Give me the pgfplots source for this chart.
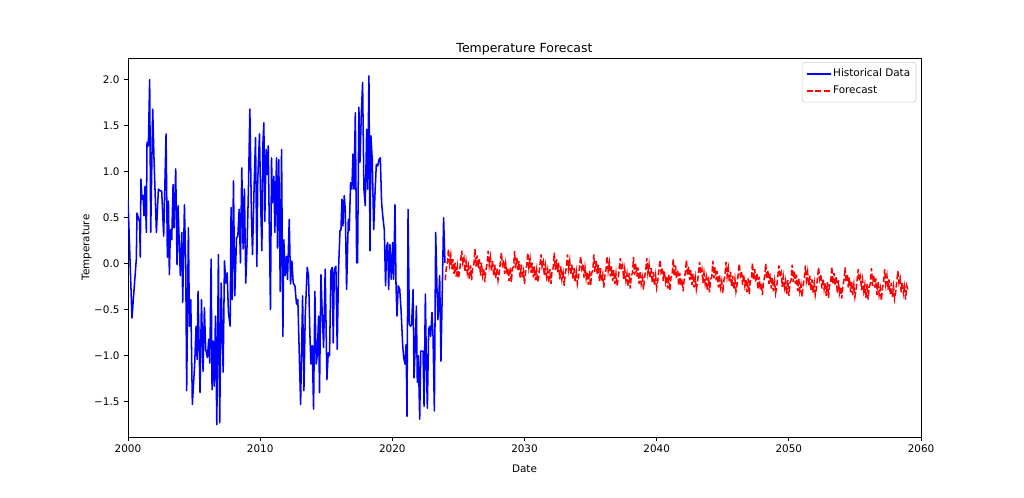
\documentclass[border=0pt]{standalone}
\usepackage{pgfplots}
\pgfplotsset{compat=1.18}
\usepackage{fontspec}
\setmainfont{DejaVu Sans}
\definecolor{mblue}{RGB}{0,0,255}
\definecolor{mred}{RGB}{255,0,0}
\begin{document}
\begin{tikzpicture}
\begin{axis}[
  scale only axis,
  width=571pt, height=273pt,
  xmin=2000, xmax=2060,
  ymin=-1.885, ymax=2.235,
  xtick={2000,2010,2020,2030,2040,2050,2060},
  xticklabels={2000,2010,2020,2030,2040,2050,2060},
  ytick={-1.5,-1,-0.5,0,0.5,1,1.5,2},
  yticklabels={−1.5,−1.0,−0.5,0.0,0.5,1.0,1.5,2.0},
  tick align=outside,
  tick pos=left,
  major tick length=2.6pt,
  every tick/.style={black, line width=0.6pt},
  axis line style={line width=0.6pt},
  ticklabel style={font=\fontsize{7.5}{9}\selectfont},
  xticklabel style={yshift=1pt},
  xlabel={Date}, ylabel={Temperature},
  label style={font=\fontsize{7.5}{9}\selectfont},
  xlabel style={yshift=-2.3pt},
  ylabel style={yshift=-5pt},
  title={Temperature Forecast},
  title style={font=\fontsize{9}{11}\selectfont, inner sep=0pt, yshift=-4.2pt},
  legend cell align=left,
  legend style={font=\fontsize{7.5}{9}\selectfont, draw=black!20, rounded corners=2pt, inner xsep=3pt, inner ysep=3.5pt, row sep=2.6pt, at={(0.994,0.989)}, anchor=north east, nodes={inner sep=1.2pt}},
  legend image code/.code={\draw[#1, line width=1.1pt] (0pt,0pt) -- (17pt,0pt);},
]
\addplot[mblue, line width=1.1pt, line join=round] coordinates {
(2000.00,0.70)(2000.30,-0.59)(2000.63,0.05)(2000.68,0.55)(2000.88,0.45)(2000.93,0.07)(2000.98,0.92)(2001.06,0.70)(2001.14,0.74)(2001.21,0.52)(2001.29,0.84)(2001.39,0.34)(2001.44,1.32)(2001.54,1.28)(2001.64,2.00)(2001.72,0.34)(2001.87,1.68)(2001.97,1.13)(2002.15,0.34)(2002.30,0.81)(2002.45,0.79)(2002.55,0.79)(2002.70,0.30)(2002.88,1.41)(2002.98,0.07)
(2003.06,0.68)(2003.13,-0.12)(2003.21,0.37)(2003.31,0.26)(2003.41,0.86)(2003.48,0.39)(2003.61,1.03)(2003.71,-0.01)(2003.79,0.63)(2003.89,0.16)(2003.96,-0.13)(2004.07,0.34)(2004.14,-0.42)(2004.27,0.64)(2004.37,-0.03)(2004.44,-1.38)(2004.57,0.39)(2004.65,-0.68)(2004.75,-0.39)(2004.87,-1.53)
(2005.05,-1.08)(2005.15,-0.68)(2005.23,-1.04)(2005.30,-0.30)(2005.45,-1.40)(2005.56,-0.39)(2005.68,-1.17)(2005.78,-0.48)(2005.88,-0.93)(2006.01,-1.02)(2006.11,-0.82)(2006.19,-1.08)(2006.29,0.05)(2006.36,-1.37)(2006.44,-0.84)(2006.52,-1.33)(2006.62,-0.57)(2006.72,-1.75)(2006.84,0.10)(2006.94,-1.73)
(2007.05,-0.21)(2007.20,-1.18)(2007.30,0.03)(2007.40,-0.21)(2007.50,-0.10)(2007.60,-0.53)(2007.73,-0.68)(2007.80,0.61)(2007.88,-0.39)(2007.98,0.90)(2008.08,-0.35)(2008.21,0.28)(2008.31,0.30)(2008.41,0.59)(2008.51,0.01)(2008.61,1.04)(2008.71,0.16)(2008.81,0.81)(2008.91,-0.21)
(2009.02,0.25)(2009.12,0.86)(2009.22,1.68)(2009.34,0.52)(2009.42,0.10)(2009.55,0.88)(2009.65,1.37)(2009.75,-0.03)(2009.82,0.92)(2009.95,1.41)(2010.05,0.59)(2010.13,0.14)(2010.20,1.28)(2010.28,1.53)(2010.35,0.46)(2010.45,1.24)(2010.53,0.97)(2010.61,1.28)(2010.68,0.52)(2010.78,-0.50)(2010.86,1.15)(2010.93,0.66)
(2011.04,0.95)(2011.11,0.34)(2011.24,1.15)(2011.31,0.17)(2011.41,1.13)(2011.52,-0.30)(2011.62,1.24)(2011.72,-0.79)(2011.79,0.26)(2011.89,-0.13)(2011.99,0.08)(2012.07,-0.17)(2012.20,0.48)(2012.30,-0.22)(2012.40,0.03)(2012.50,-0.21)(2012.63,-0.24)(2012.75,-0.44)(2012.85,-0.39)
(2013.06,-1.53)(2013.21,-0.35)(2013.31,-1.38)(2013.41,-0.57)(2013.56,-0.04)(2013.66,-0.13)(2013.76,-0.75)(2013.84,-1.09)(2013.94,-0.89)(2014.04,-1.58)(2014.14,-0.30)(2014.24,-1.09)(2014.32,-1.00)(2014.42,-0.57)(2014.49,-1.40)(2014.60,-0.12)(2014.70,-0.57)(2014.80,-0.91)(2014.92,-0.06)
(2015.05,-1.26)(2015.15,-0.97)(2015.25,-1.00)(2015.35,-0.08)(2015.45,-0.04)(2015.53,-0.86)(2015.61,-0.06)(2015.73,-0.03)(2015.83,-0.93)(2015.93,-0.06)(2016.04,0.36)(2016.11,0.36)(2016.19,0.70)(2016.26,0.41)(2016.36,0.74)(2016.44,0.59)(2016.54,-0.28)(2016.67,0.48)(2016.74,0.36)(2016.84,0.88)(2016.94,0.81)
(2017.02,1.19)(2017.10,0.81)(2017.20,1.64)(2017.30,0.01)(2017.37,0.01)(2017.47,1.70)(2017.55,1.10)(2017.65,1.61)(2017.75,1.97)(2017.85,0.81)(2017.95,0.63)(2018.06,1.46)(2018.13,0.81)(2018.23,2.04)(2018.31,0.14)(2018.38,1.39)(2018.48,1.13)(2018.59,0.37)(2018.69,0.77)(2018.79,1.08)(2018.89,1.06)(2018.99,1.13)
(2019.09,1.15)(2019.19,0.66)(2019.29,0.50)(2019.39,0.37)(2019.49,-0.24)(2019.57,0.19)(2019.65,0.23)(2019.72,-0.28)(2019.82,0.21)(2019.92,-0.17)(2020.03,0.23)(2020.10,-0.17)(2020.20,0.64)(2020.28,-0.24)(2020.35,-0.57)(2020.45,-0.24)(2020.56,-0.28)(2020.66,-0.50)(2020.78,-0.88)(2020.86,-1.02)(2020.96,-1.09)
(2021.04,-0.88)(2021.11,-1.66)(2021.19,0.59)(2021.29,-0.66)(2021.39,-0.68)(2021.46,-0.66)(2021.57,-0.28)(2021.64,-1.24)(2021.72,-0.95)(2021.82,-0.46)(2021.89,-1.29)(2021.97,-1.00)(2022.07,-1.69)(2022.15,-0.95)(2022.22,-0.95)(2022.32,-0.95)(2022.40,-1.55)(2022.50,-0.33)(2022.58,-1.13)(2022.65,-1.57)(2022.75,-0.71)(2022.83,-0.68)(2022.90,-0.79)
(2023.00,-0.53)(2023.08,-0.79)(2023.18,-1.60)(2023.28,0.34)(2023.38,-0.28)(2023.45,-0.61)(2023.58,-0.13)(2023.68,-1.06)(2023.78,-0.28)(2023.88,0.50)(2023.98,0.01)
};
\addlegendentry{Historical Data}
\addplot[mred, line width=1.1pt, dash pattern=on 4.2pt off 1.8pt] coordinates {
(2024.00,-0.18)(2024.08,-0.05)(2024.17,0.02)(2024.25,0.16)(2024.33,0.00)(2024.42,0.09)(2024.50,-0.06)(2024.58,0.05)(2024.67,-0.11)(2024.75,0.01)(2024.83,-0.14)(2024.92,-0.03)
(2025.00,-0.16)(2025.08,-0.09)(2025.17,0.03)(2025.25,0.14)(2025.33,0.01)(2025.42,0.06)(2025.50,-0.09)(2025.58,0.02)(2025.67,-0.10)(2025.75,-0.03)(2025.83,-0.17)(2025.92,-0.02)
(2026.00,-0.18)(2026.08,-0.04)(2026.17,-0.01)(2026.25,0.16)(2026.33,-0.03)(2026.42,0.09)(2026.50,-0.05)(2026.58,0.05)(2026.67,-0.13)(2026.75,0.01)(2026.83,-0.13)(2026.92,-0.06)
(2027.00,-0.20)(2027.08,-0.07)(2027.17,0.00)(2027.25,0.14)(2027.33,-0.02)(2027.42,0.07)(2027.50,-0.08)(2027.58,0.03)(2027.67,-0.13)(2027.75,-0.01)(2027.83,-0.16)(2027.92,-0.05)
(2028.00,-0.18)(2028.08,-0.11)(2028.17,0.01)(2028.25,0.12)(2028.33,-0.01)(2028.42,0.04)(2028.50,-0.11)(2028.58,0.00)(2028.67,-0.12)(2028.75,-0.05)(2028.83,-0.19)(2028.92,-0.04)
(2029.00,-0.20)(2029.08,-0.06)(2029.17,-0.03)(2029.25,0.14)(2029.33,-0.05)(2029.42,0.07)(2029.50,-0.07)(2029.58,0.03)(2029.67,-0.15)(2029.75,-0.01)(2029.83,-0.15)(2029.92,-0.08)
(2030.00,-0.22)(2030.08,-0.09)(2030.17,-0.02)(2030.25,0.12)(2030.33,-0.04)(2030.42,0.05)(2030.50,-0.10)(2030.58,0.01)(2030.67,-0.15)(2030.75,-0.03)(2030.83,-0.18)(2030.92,-0.07)
(2031.00,-0.20)(2031.08,-0.13)(2031.17,-0.01)(2031.25,0.10)(2031.33,-0.03)(2031.42,0.02)(2031.50,-0.13)(2031.58,-0.02)(2031.67,-0.14)(2031.75,-0.07)(2031.83,-0.21)(2031.92,-0.06)
(2032.00,-0.22)(2032.08,-0.08)(2032.17,-0.05)(2032.25,0.12)(2032.33,-0.07)(2032.42,0.05)(2032.50,-0.09)(2032.58,0.01)(2032.67,-0.17)(2032.75,-0.03)(2032.83,-0.17)(2032.92,-0.10)
(2033.00,-0.24)(2033.08,-0.11)(2033.17,-0.04)(2033.25,0.10)(2033.33,-0.06)(2033.42,0.03)(2033.50,-0.12)(2033.58,-0.01)(2033.67,-0.17)(2033.75,-0.05)(2033.83,-0.20)(2033.92,-0.09)
(2034.00,-0.22)(2034.08,-0.15)(2034.17,-0.03)(2034.25,0.08)(2034.33,-0.05)(2034.42,0.00)(2034.50,-0.15)(2034.58,-0.04)(2034.67,-0.16)(2034.75,-0.09)(2034.83,-0.23)(2034.92,-0.08)
(2035.00,-0.24)(2035.08,-0.10)(2035.17,-0.07)(2035.25,0.10)(2035.33,-0.09)(2035.42,0.03)(2035.50,-0.11)(2035.58,-0.01)(2035.67,-0.19)(2035.75,-0.05)(2035.83,-0.19)(2035.92,-0.12)
(2036.00,-0.26)(2036.08,-0.13)(2036.17,-0.06)(2036.25,0.08)(2036.33,-0.08)(2036.42,0.01)(2036.50,-0.14)(2036.58,-0.03)(2036.67,-0.19)(2036.75,-0.07)(2036.83,-0.22)(2036.92,-0.11)
(2037.00,-0.24)(2037.08,-0.17)(2037.17,-0.05)(2037.25,0.06)(2037.33,-0.07)(2037.42,-0.02)(2037.50,-0.17)(2037.58,-0.06)(2037.67,-0.18)(2037.75,-0.11)(2037.83,-0.25)(2037.92,-0.10)
(2038.00,-0.27)(2038.08,-0.13)(2038.17,-0.10)(2038.25,0.07)(2038.33,-0.12)(2038.42,0.00)(2038.50,-0.14)(2038.58,-0.04)(2038.67,-0.22)(2038.75,-0.08)(2038.83,-0.22)(2038.92,-0.15)
(2039.00,-0.28)(2039.08,-0.15)(2039.17,-0.08)(2039.25,0.06)(2039.33,-0.10)(2039.42,-0.01)(2039.50,-0.16)(2039.58,-0.05)(2039.67,-0.21)(2039.75,-0.09)(2039.83,-0.24)(2039.92,-0.13)
(2040.00,-0.26)(2040.08,-0.19)(2040.17,-0.07)(2040.25,0.04)(2040.33,-0.09)(2040.42,-0.04)(2040.50,-0.19)(2040.58,-0.08)(2040.67,-0.20)(2040.75,-0.13)(2040.83,-0.27)(2040.92,-0.12)
(2041.00,-0.29)(2041.08,-0.15)(2041.17,-0.12)(2041.25,0.05)(2041.33,-0.14)(2041.42,-0.02)(2041.50,-0.16)(2041.58,-0.06)(2041.67,-0.24)(2041.75,-0.10)(2041.83,-0.24)(2041.92,-0.17)
(2042.00,-0.30)(2042.08,-0.17)(2042.17,-0.10)(2042.25,0.04)(2042.33,-0.12)(2042.42,-0.03)(2042.50,-0.18)(2042.58,-0.07)(2042.67,-0.23)(2042.75,-0.11)(2042.83,-0.26)(2042.92,-0.15)
(2043.00,-0.28)(2043.08,-0.21)(2043.17,-0.09)(2043.25,0.02)(2043.33,-0.11)(2043.42,-0.06)(2043.50,-0.21)(2043.58,-0.10)(2043.67,-0.22)(2043.75,-0.15)(2043.83,-0.29)(2043.92,-0.14)
(2044.00,-0.31)(2044.08,-0.17)(2044.17,-0.14)(2044.25,0.03)(2044.33,-0.16)(2044.42,-0.04)(2044.50,-0.18)(2044.58,-0.08)(2044.67,-0.26)(2044.75,-0.12)(2044.83,-0.26)(2044.92,-0.19)
(2045.00,-0.32)(2045.08,-0.19)(2045.17,-0.12)(2045.25,0.02)(2045.33,-0.14)(2045.42,-0.05)(2045.50,-0.20)(2045.58,-0.09)(2045.67,-0.25)(2045.75,-0.13)(2045.83,-0.28)(2045.92,-0.17)
(2046.00,-0.30)(2046.08,-0.23)(2046.17,-0.11)(2046.25,0.00)(2046.33,-0.13)(2046.42,-0.08)(2046.50,-0.23)(2046.58,-0.12)(2046.67,-0.24)(2046.75,-0.17)(2046.83,-0.31)(2046.92,-0.16)
(2047.00,-0.33)(2047.08,-0.19)(2047.17,-0.16)(2047.25,0.01)(2047.33,-0.18)(2047.42,-0.06)(2047.50,-0.20)(2047.58,-0.10)(2047.67,-0.28)(2047.75,-0.14)(2047.83,-0.28)(2047.92,-0.21)
(2048.00,-0.34)(2048.08,-0.21)(2048.17,-0.14)(2048.25,0.00)(2048.33,-0.16)(2048.42,-0.07)(2048.50,-0.22)(2048.58,-0.11)(2048.67,-0.27)(2048.75,-0.15)(2048.83,-0.30)(2048.92,-0.19)
(2049.00,-0.32)(2049.08,-0.25)(2049.17,-0.13)(2049.25,-0.02)(2049.33,-0.15)(2049.42,-0.10)(2049.50,-0.25)(2049.58,-0.14)(2049.67,-0.26)(2049.75,-0.19)(2049.83,-0.33)(2049.92,-0.18)
(2050.00,-0.35)(2050.08,-0.21)(2050.17,-0.18)(2050.25,-0.01)(2050.33,-0.20)(2050.42,-0.08)(2050.50,-0.22)(2050.58,-0.12)(2050.67,-0.30)(2050.75,-0.16)(2050.83,-0.30)(2050.92,-0.23)
(2051.00,-0.36)(2051.08,-0.23)(2051.17,-0.16)(2051.25,-0.02)(2051.33,-0.18)(2051.42,-0.09)(2051.50,-0.24)(2051.58,-0.13)(2051.67,-0.29)(2051.75,-0.17)(2051.83,-0.32)(2051.92,-0.21)
(2052.00,-0.34)(2052.08,-0.27)(2052.17,-0.15)(2052.25,-0.04)(2052.33,-0.17)(2052.42,-0.12)(2052.50,-0.27)(2052.58,-0.16)(2052.67,-0.28)(2052.75,-0.21)(2052.83,-0.35)(2052.92,-0.20)
(2053.00,-0.37)(2053.08,-0.23)(2053.17,-0.20)(2053.25,-0.03)(2053.33,-0.22)(2053.42,-0.10)(2053.50,-0.24)(2053.58,-0.14)(2053.67,-0.32)(2053.75,-0.18)(2053.83,-0.32)(2053.92,-0.25)
(2054.00,-0.38)(2054.08,-0.25)(2054.17,-0.18)(2054.25,-0.04)(2054.33,-0.20)(2054.42,-0.11)(2054.50,-0.26)(2054.58,-0.15)(2054.67,-0.31)(2054.75,-0.19)(2054.83,-0.34)(2054.92,-0.23)
(2055.00,-0.36)(2055.08,-0.29)(2055.17,-0.17)(2055.25,-0.06)(2055.33,-0.19)(2055.42,-0.14)(2055.50,-0.29)(2055.58,-0.18)(2055.67,-0.30)(2055.75,-0.23)(2055.83,-0.37)(2055.92,-0.22)
(2056.00,-0.39)(2056.08,-0.25)(2056.17,-0.22)(2056.25,-0.05)(2056.33,-0.24)(2056.42,-0.12)(2056.50,-0.26)(2056.58,-0.16)(2056.67,-0.34)(2056.75,-0.20)(2056.83,-0.34)(2056.92,-0.27)
(2057.00,-0.40)(2057.08,-0.27)(2057.17,-0.20)(2057.25,-0.06)(2057.33,-0.22)(2057.42,-0.13)(2057.50,-0.28)(2057.58,-0.17)(2057.67,-0.33)(2057.75,-0.21)(2057.83,-0.36)(2057.92,-0.25)
(2058.00,-0.38)(2058.08,-0.31)(2058.17,-0.19)(2058.25,-0.08)(2058.33,-0.21)(2058.42,-0.16)(2058.50,-0.31)(2058.58,-0.20)(2058.67,-0.32)(2058.75,-0.25)(2058.83,-0.39)(2058.92,-0.24)
(2059.00,-0.28)
};
\addlegendentry{Forecast}
\end{axis}
\pgfresetboundingbox
\path ([xshift=-92.16pt,yshift=-43.2pt]current axis.south west) rectangle ([xshift=74.16pt,yshift=41.76pt]current axis.north east);
\end{tikzpicture}
\end{document}
